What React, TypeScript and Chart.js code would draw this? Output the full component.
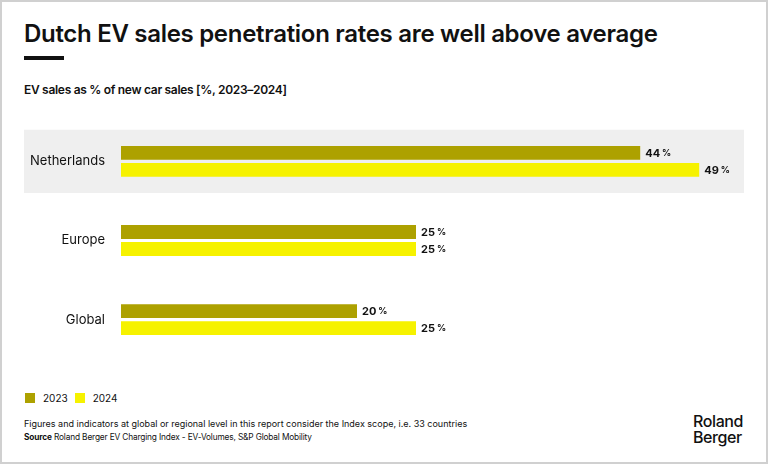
import React, { useEffect, useRef } from "react";
import { Chart, registerables } from "chart.js";

Chart.register(...registerables);

const categories = ["Netherlands", "Europe", "Global"];
const seriesNames = ["2023", "2024"];
const values2023 = [44, 25, 20];
const values2024 = [49, 25, 25];
const colors = ["#ada100", "#f6f200"];
const highlightIndex = 0;

const FONT = "Inter, 'DejaVu Sans', sans-serif";

const bandPlugin = {
  id: "band",
  beforeDraw(chart: any) {
    const y = chart.scales.y;
    const ctx = chart.ctx;
    const step = (chart.chartArea.bottom - chart.chartArea.top) / categories.length;
    const cy = y.getPixelForValue(highlightIndex);
    ctx.save();
    ctx.fillStyle = "#efefef";
    ctx.fillRect(0, cy - step * 0.4, chart.width, step * 0.8);
    ctx.restore();
  },
};

const valueLabelPlugin = {
  id: "valueLabels",
  afterDatasetsDraw(chart: any) {
    const ctx = chart.ctx;
    ctx.save();
    ctx.fillStyle = "#111";
    ctx.textBaseline = "middle";
    ctx.textAlign = "left";
    chart.data.datasets.forEach((ds: any, di: number) => {
      const meta = chart.getDatasetMeta(di);
      meta.data.forEach((el: any, i: number) => {
        const num = `${ds.data[i]}`;
        ctx.font = `700 11px ${FONT}`;
        const w = ctx.measureText(num).width;
        ctx.fillText(num, el.x + 5, el.y + 0.5);
        ctx.font = `700 9px ${FONT}`;
        ctx.fillText("%", el.x + 5 + w + 2, el.y + 0.5);
      });
    });
    ctx.restore();
  },
};

function BarChart() {
  const ref = useRef<HTMLCanvasElement | null>(null);
  useEffect(() => {
    if (!ref.current) return;
    const chart = new Chart(ref.current, {
      type: "bar",
      data: {
        labels: categories,
        datasets: [
          { label: seriesNames[0], data: values2023, backgroundColor: colors[0], categoryPercentage: 0.43, barPercentage: 0.82 },
          { label: seriesNames[1], data: values2024, backgroundColor: colors[1], categoryPercentage: 0.43, barPercentage: 0.82 },
        ],
      },
      options: {
        indexAxis: "y",
        animation: false,
        responsive: false,
        maintainAspectRatio: false,
        layout: { padding: { top: 0, bottom: 0, left: 0, right: 33 } },
        plugins: { legend: { display: false }, tooltip: { enabled: false } },
        scales: {
          x: { display: false, min: 0, max: 50 },
          y: {
            grid: { display: false, drawTicks: false },
            border: { display: false },
            ticks: { padding: 16, color: "#111", font: { family: FONT, size: 13 } },
            afterFit: (scale: any) => {
              scale.width = 97;
            },
          },
        },
      },
      plugins: [bandPlugin, valueLabelPlugin],
    });
    return () => chart.destroy();
  }, []);
  return <canvas ref={ref} width={720} height={285} style={{ position: "absolute", left: 22, top: 96, width: 720, height: 285 }} />;
}

export default function App() {
  return (
    <div
      style={{
        position: "fixed",
        left: 0,
        top: 0,
        width: 768,
        height: 464,
        boxSizing: "border-box",
        border: "2px solid #d0d0d0",
        background: "#fff",
        fontFamily: FONT,
        color: "#111",
        overflow: "hidden",
      }}
    >
      <div style={{ position: "absolute", left: 22, top: 17, fontSize: 24, fontWeight: 600, letterSpacing: -0.3, whiteSpace: "nowrap" }}>
        Dutch EV sales penetration rates are well above average
      </div>
      <div style={{ position: "absolute", left: 22, top: 54, width: 40, height: 4, background: "#111" }} />
      <div style={{ position: "absolute", left: 22, top: 80, fontSize: 12, fontWeight: 600, letterSpacing: -0.3, whiteSpace: "nowrap" }}>
        EV sales as % of new car sales [%, 2023–2024]
      </div>
      <BarChart />
      <div style={{ position: "absolute", left: 23, top: 390, display: "flex", alignItems: "center", fontSize: 10 }}>
        {seriesNames.map((n, i) => (
          <div key={n} style={{ display: "flex", alignItems: "center", marginRight: 7 }}>
            <span style={{ display: "inline-block", width: 10, height: 10, background: colors[i], marginRight: 8 }} />
            <span>{n}</span>
          </div>
        ))}
      </div>
      <div style={{ position: "absolute", left: 22, top: 416, fontSize: 9, whiteSpace: "nowrap" }}>
        Figures and indicators at global or regional level in this report consider the Index scope, i.e. 33 countries
      </div>
      <div style={{ position: "absolute", left: 22, top: 430, fontSize: 8.3, letterSpacing: -0.15, whiteSpace: "nowrap" }}>
        <b>Source</b> Roland Berger EV Charging Index - EV-Volumes, S&amp;P Global Mobility
      </div>
      <div style={{ position: "absolute", left: 691, top: 411, fontSize: 16, fontWeight: 500, lineHeight: "16px", letterSpacing: -0.4 }}>
        Roland
        <br />
        Berger
      </div>
    </div>
  );
}
